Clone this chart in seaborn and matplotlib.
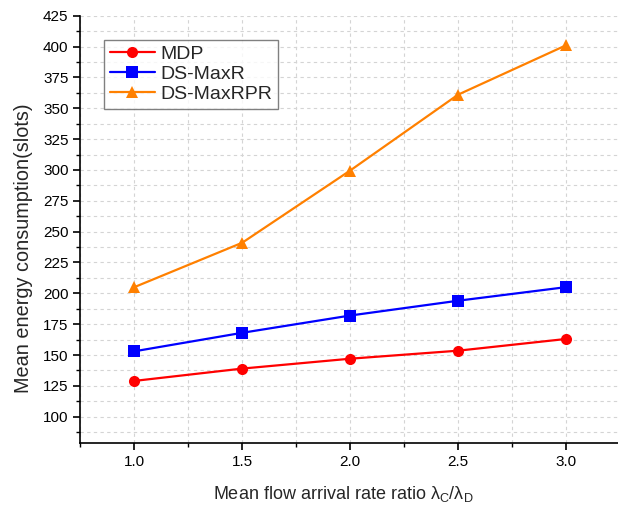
import matplotlib
matplotlib.use("Agg")
import matplotlib.pyplot as plt
import seaborn as sns
import pandas as pd
from matplotlib.ticker import MultipleLocator

x_vals = [1.0, 1.5, 2.0, 2.5, 3.0]
mdp = [129, 139, 147, 153.5, 163]
ds_maxr = [153, 168, 182, 194, 205]
ds_maxrpr = [205, 241, 299.5, 361, 401]
series_names = ["MDP", "DS-MaxR", "DS-MaxRPR"]
colors = {"MDP": "#ff0000", "DS-MaxR": "#0000ff", "DS-MaxRPR": "#ff8000"}
markers = {"MDP": "o", "DS-MaxR": "s", "DS-MaxRPR": "^"}

rows = []
for name, vals in zip(series_names, [mdp, ds_maxr, ds_maxrpr]):
    for xv, yv in zip(x_vals, vals):
        rows.append({"x": xv, "y": yv, "series": name})
df = pd.DataFrame(rows)

sns.set_style("white")
plt.rcParams["font.family"] = ["Liberation Sans", "DejaVu Sans"]
plt.rcParams["mathtext.fontset"] = "custom"
plt.rcParams["mathtext.rm"] = "Liberation Sans"
plt.rcParams["mathtext.it"] = "Liberation Sans"

fig = plt.figure(figsize=(6.18, 5.08), dpi=100)
ax = fig.add_axes([0.130, 0.128, 0.873, 0.841])

sns.lineplot(data=df, x="x", y="y", hue="series", style="series",
             hue_order=series_names, style_order=series_names,
             palette=colors, markers=markers, dashes=False,
             markersize=8, markeredgewidth=0, linewidth=1.6, ax=ax)

ax.set_xlim(0.75, 3.25)
ax.set_ylim(78.7, 425)
ax.xaxis.set_major_locator(MultipleLocator(0.5))
ax.xaxis.set_minor_locator(MultipleLocator(0.25))
ax.yaxis.set_major_locator(MultipleLocator(25))
ax.yaxis.set_minor_locator(MultipleLocator(12.5))
ax.set_xticks([1.0, 1.5, 2.0, 2.5, 3.0])
ax.set_xticklabels(["1.0", "1.5", "2.0", "2.5", "3.0"])
ax.set_yticks(list(range(100, 426, 25)))

ax.grid(True, which="both", linestyle=(0, (3, 3)), color="#d4d4d4", linewidth=0.8)
ax.set_axisbelow(True)

for side in ["top", "right"]:
    ax.spines[side].set_visible(False)
for side in ["left", "bottom"]:
    ax.spines[side].set_color("black")
    ax.spines[side].set_linewidth(1.2)

ax.tick_params(axis="both", which="major", direction="out", length=5, width=1.2,
               colors="black", labelsize=11, left=True, bottom=True)
ax.tick_params(axis="both", which="minor", direction="out", length=3, width=1.0,
               colors="black", left=True, bottom=True)

ax.set_xlabel("Mean flow arrival rate ratio λ$_\\mathrm{C}$/λ$_\\mathrm{D}$", fontsize=13, labelpad=8)
ax.xaxis.set_label_coords(0.487, -0.095)
ax.set_ylabel("Mean energy consumption(slots)", fontsize=14.3)
ax.yaxis.set_label_coords(-0.087, 0.455)

leg = ax.legend(loc="upper left", bbox_to_anchor=(0.044, 0.944), borderaxespad=0,
                fontsize=14, frameon=True, fancybox=False, handlelength=2.3,
                handletextpad=0.3, labelspacing=0.12, borderpad=0.3)
leg.get_frame().set_edgecolor("#606060")
leg.get_frame().set_linewidth(1.0)

fig.savefig("out.png", dpi=100)
